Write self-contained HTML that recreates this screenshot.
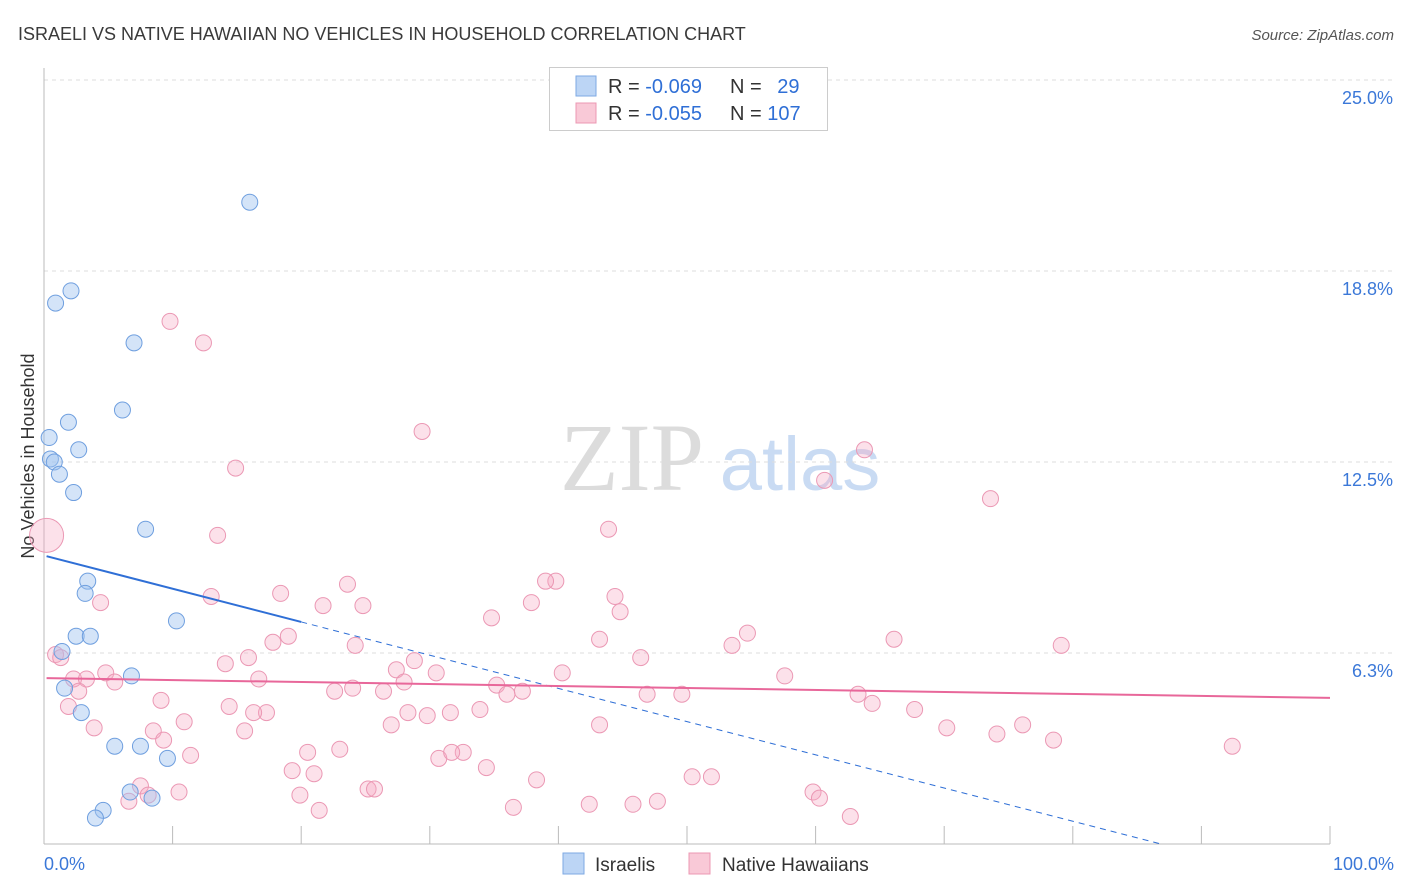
<!DOCTYPE html>
<html><head><meta charset="utf-8"><style>
body{margin:0;background:#fff;font-family:"Liberation Sans",sans-serif;}
svg{display:block}
</style></head><body>
<svg id="c" width="1406" height="892">
<text x="18" y="40" font-size="18" fill="#3a3a3a">ISRAELI VS NATIVE HAWAIIAN NO VEHICLES IN HOUSEHOLD CORRELATION CHART</text>
<text x="1394" y="40" font-size="15" fill="#555" text-anchor="end" font-style="italic">Source: ZipAtlas.com</text>
<text x="34" y="456" font-size="18" fill="#333" text-anchor="middle" transform="rotate(-90 34 456)">No Vehicles in Household</text>
<g><text x="632" y="490" font-size="96" font-family="Liberation Serif" fill="#dcdcdc" text-anchor="middle">ZIP</text><text x="800" y="490" font-size="76" fill="#c9dbf3" text-anchor="middle">atlas</text></g>
<g id="grid"></g><g id="marks"></g>
<g>
<rect x="549.5" y="67.5" width="278" height="63" fill="#fff" stroke="#ccc"/>
<rect x="576" y="76" width="20" height="20" fill="#bcd5f5" stroke="#7ea9e3"/>
<rect x="576" y="103" width="20" height="20" fill="#f9c9d7" stroke="#ec98b3"/>
<text x="608" y="93" font-size="20" fill="#333">R = <tspan fill="#2f6fd6">-0.069</tspan></text>
<text x="730" y="93" font-size="20" fill="#333">N = <tspan fill="#2f6fd6" dx="10">29</tspan></text>
<text x="608" y="120" font-size="20" fill="#333">R = <tspan fill="#2f6fd6">-0.055</tspan></text>
<text x="730" y="120" font-size="20" fill="#333">N = <tspan fill="#2f6fd6">107</tspan></text>
</g>
<g>
<rect x="563" y="853" width="21" height="21" fill="#bcd5f5" stroke="#7ea9e3"/>
<text x="595" y="871" font-size="19" fill="#333">Israelis</text>
<rect x="689" y="853" width="21" height="21" fill="#f9c9d7" stroke="#ec98b3"/>
<text x="722" y="871" font-size="19" fill="#333">Native Hawaiians</text>
</g>
</svg>
<script>
const yTicks=[25,18.75,12.5,6.25];
const yTickLabels=["25.0%","18.8%","12.5%","6.3%"];
const xTickLabels=["0.0%","100.0%"];
const isrX=[16.0,2.1,0.9,7.0,6.1,1.9,0.4,2.7,0.5,0.8,1.2,2.3,7.9,3.4,3.2,10.3,2.5,3.6,1.4,1.6,6.8,2.9,5.5,7.5,9.6,6.7,8.4,4.6,4.0];
const isrY=[21.0,18.1,17.7,16.4,14.2,13.8,13.3,12.9,12.6,12.5,12.1,11.5,10.3,8.6,8.2,7.3,6.8,6.8,6.3,5.1,5.5,4.3,3.2,3.2,2.8,1.7,1.5,1.1,0.85];
const hawX=[9.8,12.4,29.4,63.8,14.9,60.7,73.6,43.9,13.5,0.2,23.6,39.8,39.0,18.4,4.4,13.0,44.4,37.9,21.7,24.8,44.8,34.8,54.7,43.2,19.0,17.8,53.5,24.2,66.1,79.1,0.9,1.3,15.9,14.1,46.4,28.8,27.4,30.5,40.3,4.8,2.3,3.3,5.5,16.7,28.0,57.6,35.2,22.6,24.0,26.4,36.0,37.2,2.7,46.9,49.6,63.3,9.1,1.9,14.4,64.4,67.7,17.3,16.3,31.6,28.3,33.9,29.8,10.9,3.9,27.0,43.2,8.5,15.6,76.1,70.2,74.1,78.5,9.3,23.0,20.5,92.4,11.4,32.6,30.7,31.7,34.4,19.3,21.0,50.4,51.9,38.3,7.5,25.2,25.7,10.5,8.1,19.9,6.6,59.8,60.3,47.7,42.4,45.8,21.4,36.5,62.7];
const hawY=[17.1,16.4,13.5,12.9,12.3,11.9,11.3,10.3,10.1,10.1,8.5,8.6,8.6,8.2,7.9,8.1,8.1,7.9,7.8,7.8,7.6,7.4,6.9,6.7,6.8,6.6,6.5,6.5,6.7,6.5,6.2,6.1,6.1,5.9,6.1,6.0,5.7,5.6,5.6,5.6,5.4,5.4,5.3,5.4,5.3,5.5,5.2,5.0,5.1,5.0,4.9,5.0,5.0,4.9,4.9,4.9,4.7,4.5,4.5,4.6,4.4,4.3,4.3,4.3,4.3,4.4,4.2,4.0,3.8,3.9,3.9,3.7,3.7,3.9,3.8,3.6,3.4,3.4,3.1,3.0,3.2,2.9,3.0,2.8,3.0,2.5,2.4,2.3,2.2,2.2,2.1,1.9,1.8,1.8,1.7,1.6,1.6,1.4,1.7,1.5,1.4,1.3,1.3,1.1,1.2,0.9];
const isrTrend=[9.44,-0.1087];
const hawTrend=[5.43,-0.0065];
const X=v=>44+v*12.86, Y=v=>844-v*30.56;
const NS="http://www.w3.org/2000/svg";
function mk(t,a,p){const e=document.createElementNS(NS,t);for(const k in a)e.setAttribute(k,a[k]);p.appendChild(e);return e;}
const grid=document.getElementById('grid'),marks=document.getElementById('marks');
yTicks.forEach((t,i)=>{const l=mk('line',{x1:44,x2:1395,y1:Y(t),y2:Y(t),stroke:'#ddd','stroke-dasharray':'4,4'},grid);

const tx=mk('text',{x:1393,y:Y(t)+24,'font-size':18,fill:'#3b78d8','text-anchor':'end'},grid);tx.textContent=yTickLabels[i];
});
const ax=mk('line',{x1:44,x2:1330,y1:844,y2:844,stroke:'#bbb'},grid);

const ay=mk('line',{x1:44,x2:44,y1:68,y2:844,stroke:'#bbb'},grid);

for(let i=0;i<=10;i++){const t=mk('line',{x1:X(i*10),x2:X(i*10),y1:826,y2:844,stroke:'#bbb'},grid);
}
[[0,'start',44],[100,'end',1394]].forEach((d,i)=>{const t=mk('text',{x:d[2],y:870,'font-size':18,fill:'#3b78d8','text-anchor':d[1]},grid);t.textContent=xTickLabels[i];
});
hawX.forEach((x,i)=>{const c=mk('circle',{cx:X(x),cy:Y(hawY[i]),r:i===9?17:8,fill:'rgba(245,170,195,0.35)',stroke:'#eb98b4','stroke-width':1},marks);
});
isrX.forEach((x,i)=>{const c=mk('circle',{cx:X(x),cy:Y(isrY[i]),r:8,fill:'rgba(160,195,240,0.45)',stroke:'#6f9fdf','stroke-width':1},marks);
});
const f=(tr,x)=>tr[0]+tr[1]*x;
let l=mk('line',{x1:X(0.2),y1:Y(f(isrTrend,0.2)),x2:X(20),y2:Y(f(isrTrend,20)),stroke:'#2f6fd6','stroke-width':2},marks);

const xe=-isrTrend[0]/isrTrend[1];
l=mk('line',{x1:X(20),y1:Y(f(isrTrend,20)),x2:X(xe),y2:Y(0),stroke:'#2f6fd6','stroke-width':1,'stroke-dasharray':'6,5'},marks);

l=mk('line',{x1:X(0.2),y1:Y(f(hawTrend,0.2)),x2:X(100),y2:Y(f(hawTrend,100)),stroke:'#e8679a','stroke-width':2},marks);

</script>
</body></html>
